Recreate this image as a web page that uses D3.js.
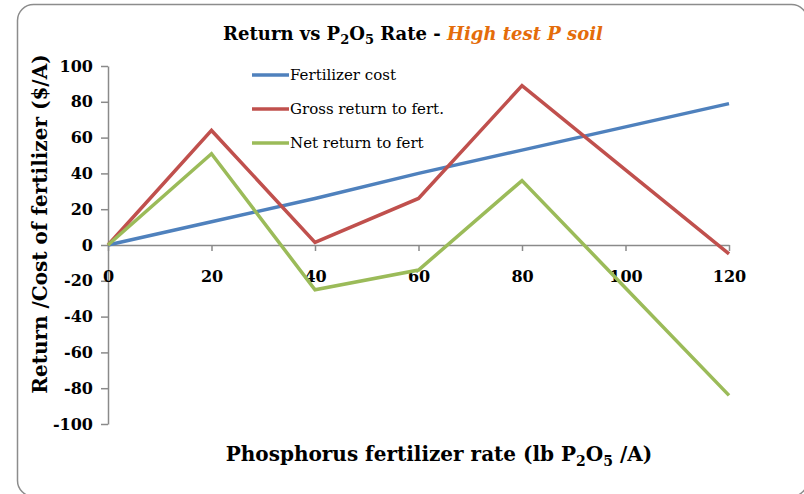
<!DOCTYPE html>
<html>
<head>
<meta charset="utf-8">
<script src="https://cdnjs.cloudflare.com/ajax/libs/d3/7.8.5/d3.min.js"></script>
<style>
  body { margin: 0; background: #fff; }
  svg { display: block; }
  .tick text { font-family: "DejaVu Serif", serif; font-weight: bold; font-size: 16px; fill: #000; }
</style>
</head>
<body>
<svg width="804" height="494"></svg>
<script>
// chart data
var rates = [0, 20, 40, 60, 80, 100, 120];
var fertCost = [0, 13, 26, 40, 53, 66, 79];
var grossReturn = [0, 64, 1.5, 26, 89, 42, -5];
var netReturn = [0, 51, -25, -14, 36, -24, -84];
var yTicks = [-100, -80, -60, -40, -20, 0, 20, 40, 60, 80, 100];
var xTicks = [0, 20, 40, 60, 80, 100, 120];

var series = [
  { name: "Fertilizer cost", values: fertCost, color: "#4F81BD" },
  { name: "Gross return to fert.", values: grossReturn, color: "#C0504D" },
  { name: "Net return to fert", values: netReturn, color: "#9BBB59" }
];

var svg = d3.select("svg");
var serif = "'DejaVu Serif', serif";

// outer rounded frame
svg.append("rect")
  .attr("x", 17.5).attr("y", 4.5)
  .attr("width", 790).attr("height", 492)
  .attr("rx", 16).attr("ry", 16)
  .attr("fill", "#fff")
  .attr("stroke", "#8c8c8c")
  .attr("stroke-width", 1.5);

var x = d3.scaleLinear().domain([0, 120]).range([108, 729]);
var y = d3.scaleLinear().domain([-100, 100]).range([424, 66]);
var plain = function (d) { return String(d); }; // hyphen minus like the original

// y axis on the left
svg.append("g")
  .attr("transform", "translate(108,0)")
  .call(d3.axisLeft(y).tickValues(yTicks).tickFormat(plain).tickSize(7).tickSizeOuter(0).tickPadding(8));

// x axis through zero, labels sit lower
svg.append("g")
  .attr("transform", "translate(0," + y(0) + ")")
  .call(d3.axisBottom(x).tickValues(xTicks).tickFormat(plain).tickSize(6).tickSizeOuter(0).tickPadding(20));

svg.selectAll(".domain, .tick line")
  .attr("stroke", "#8a8a8a")
  .attr("stroke-width", 1.5);

// lines
var line = d3.line()
  .x(function (d, i) { return x(rates[i]); })
  .y(function (d) { return y(d); });

svg.append("g").selectAll("path")
  .data(series)
  .enter().append("path")
  .attr("d", function (d) { return line(d.values); })
  .attr("fill", "none")
  .attr("stroke", function (d) { return d.color; })
  .attr("stroke-width", 3.5)
  .attr("stroke-linejoin", "miter");

// legend
var legend = svg.append("g").selectAll("g")
  .data(series)
  .enter().append("g")
  .attr("transform", function (d, i) { return "translate(252," + (75 + i * 34) + ")"; });

legend.append("line")
  .attr("x1", 0).attr("x2", 37)
  .attr("stroke", function (d) { return d.color; })
  .attr("stroke-width", 3.5);

legend.append("text")
  .attr("x", 38).attr("y", 5)
  .style("font-family", serif)
  .style("font-size", "15px")
  .text(function (d) { return d.name; });

// title
var title = svg.append("text")
  .attr("x", 413).attr("y", 40)
  .attr("text-anchor", "middle")
  .style("font-family", serif)
  .style("font-weight", "bold")
  .style("font-size", "18px");
title.append("tspan").text("Return vs P");
title.append("tspan").attr("dy", 4).style("font-size", "13px").text("2");
title.append("tspan").attr("dy", -4).text("O");
title.append("tspan").attr("dy", 4).style("font-size", "13px").text("5");
title.append("tspan").attr("dy", -4).text(" Rate - ");
title.append("tspan").attr("fill", "#E46C0A").style("font-style", "italic").text("High test P soil");

// x axis title
var xTitle = svg.append("text")
  .attr("x", 439).attr("y", 461)
  .attr("text-anchor", "middle")
  .style("font-family", serif)
  .style("font-weight", "bold")
  .style("font-size", "20px");
xTitle.append("tspan").text("Phosphorus fertilizer rate (lb P");
xTitle.append("tspan").attr("dy", 5).style("font-size", "14px").text("2");
xTitle.append("tspan").attr("dy", -5).text("O");
xTitle.append("tspan").attr("dy", 5).style("font-size", "14px").text("5");
xTitle.append("tspan").attr("dy", -5).text(" /A)");

// y axis title
svg.append("text")
  .attr("transform", "translate(47,224) rotate(-90)")
  .attr("text-anchor", "middle")
  .style("font-family", serif)
  .style("font-weight", "bold")
  .style("font-size", "20px")
  .text("Return /Cost of fertilizer ($/A)");
</script>
</body>
</html>
